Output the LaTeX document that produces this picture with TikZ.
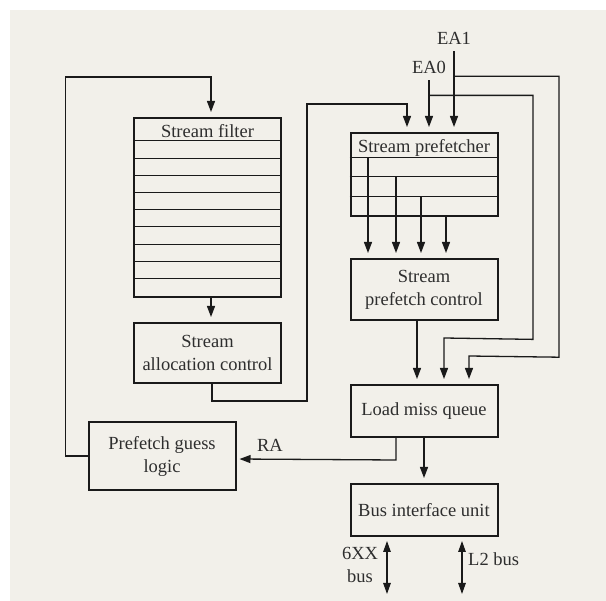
\documentclass[tikz,border=0pt]{standalone}
\usepackage{fontspec}
\setmainfont{Liberation Serif}
\usetikzlibrary{arrows.meta,calc}
\definecolor{bg}{HTML}{F2F0EA}
\definecolor{ink}{HTML}{1A1A1A}
\definecolor{txt}{HTML}{2E2E2E}
\begin{document}
\begin{tikzpicture}[x=1pt,y=-1pt,
  box/.style={draw=ink,line width=2pt,minimum width=147pt,inner sep=0pt,text=txt,align=center,font=\fontsize{18.5}{23}\selectfont},
  lbl/.style={text=txt,inner sep=0pt,align=center,font=\fontsize{18.5}{23}\selectfont},
  conn/.style={draw=ink,line width=1.3pt},
  arr/.style={conn,-{Triangle[length=11pt,width=8pt]},shorten >=5pt},
  dbl/.style={conn,{Triangle[length=11pt,width=7.5pt]}-{Triangle[length=11pt,width=7.5pt]}},
  rowline/.style={draw=ink,line width=1pt}]
\useasboundingbox (0,0) rectangle (606,601);
\fill[bg] (10,10) rectangle (606,601);

% boxes
\node[box,minimum height=179pt] (sf) at (207.5,207.5) {};
\node[lbl,anchor=base] (sft) at (207.5,138) {Stream filter};
\foreach \yy in {141,159,176,193,210,227,245,262,279}
  \draw[rowline] (sf.west |- 0,\yy) -- (sf.east |- 0,\yy);

\node[box,minimum height=60pt] (sac) at (207.5,353) {Stream\\allocation control};

\node[box,minimum height=83pt] (sp) at (424,174.5) {};
\node[lbl,anchor=base] (spt) at (424,153) {Stream prefetcher};
\foreach \yy in {158,177,197}
  \draw[rowline] (sp.west |- 0,\yy) -- (sp.east |- 0,\yy);

\node[box,minimum height=61pt] (spc) at (424,289.5) {Stream\\prefetch control};
\node[box,minimum height=52pt] (lmq) at (424,411) {Load miss queue};
\node[box,minimum height=52pt] (biu) at (424,510) {Bus interface unit};
\node[box,minimum height=68pt] (pgl) at (162,456) {Prefetch guess\\logic};

% labels
\node[lbl,anchor=base] (ea1) at (454,45) {EA1};
\node[lbl,anchor=base] (ea0) at (429,74) {EA0};
\node[lbl,anchor=base] (ra) at (270,452) {RA};
\node[lbl] (b6) at (360,565) {6XX\\bus};
\node[lbl,anchor=base west] (l2) at (468,566) {L2 bus};

% internal start points in stream prefetcher
\coordinate (t1) at (368,158);
\coordinate (t2) at (396,177);
\coordinate (t3) at (421,197);
\coordinate (t4) at (446,216);

% connectors
\draw[arr] ([xshift=3.5pt]sf.south) -- ([xshift=3.5pt]sac.north);
\draw[arr] (pgl.west) -- ++(-22,0) |- ($(sf.north)+(3.5,-40)$) -- ($(sf.north)+(3.5,0)$);
\draw[arr] ($(sac.south)+(4.5,0)$) -- ++(0,17) -- ++(95,0) |- ($(sp.north)+(-17,-28)$) -- ($(sp.north)+(-17,0)$);

\draw[arr] (ea1.south) ++(0,6) -- (ea1.south |- sp.north);
\draw[arr] (ea0.south) ++(0,6) -- (ea0.south |- sp.north);
\draw[arr] ($(ea1.south)+(0,31)$) -- ++(105,0) -- ++(0,281) -- ($(lmq.north)+(45,-28)$) -- ($(lmq.north)+(45,0)$);
\draw[arr] ($(ea0.south)+(0,21)$) -- ++(104,0) -- ++(0,244) -- ($(lmq.north)+(20,-46)$) -- ($(lmq.north)+(20,0)$);

\draw[arr] (t1) -- (t1 |- spc.north);
\draw[arr] (t2) -- (t2 |- spc.north);
\draw[arr] (t3) -- (t3 |- spc.north);
\draw[arr] (t4) -- (t4 |- spc.north);

\draw[arr] ($(spc.south)+(-7,0)$) -- ($(lmq.north)+(-7,0)$);
\draw[arr] (lmq.south) -- (biu.north);
\draw[arr,shorten >=3pt] ($(lmq.south)+(-28,0)$) -- ++(0,22) -- ($(pgl.east)+(0,3)$);

\draw[dbl] ($(biu.south)+(-37,4)$) -- ++(0,53);
\draw[dbl] ($(biu.south)+(38,4)$) -- ++(0,53);
\end{tikzpicture}
\end{document}
